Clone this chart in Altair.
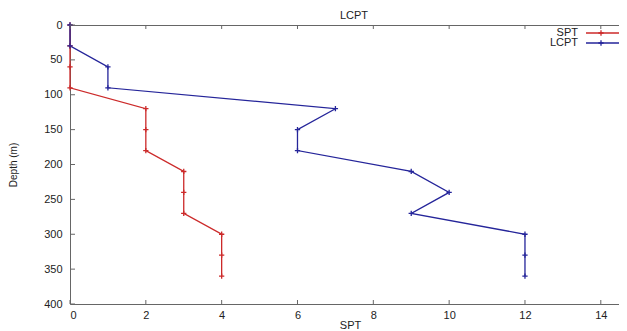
import altair as alt
import pandas as pd

depths = [0, 30, 60, 90, 120, 150, 180, 210, 240, 270, 300, 330, 360]
spt = [0, 0, 0, 0, 2, 2, 2, 3, 3, 3, 4, 4, 4]
lcpt = [0, 0, 1, 1, 7, 6, 6, 9, 10, 9, 12, 12, 12]
series_names = ["SPT", "LCPT"]
series_colors = ["#cc2a2a", "#25259a"]
x_ticks = [0, 2, 4, 6, 8, 10, 12, 14]
y_ticks = [0, 50, 100, 150, 200, 250, 300, 350, 400]

W, H = 549, 279
FONT = "Liberation Sans"

df = pd.concat([
    pd.DataFrame({"depth": depths, "value": spt, "series": "SPT"}),
    pd.DataFrame({"depth": depths, "value": lcpt, "series": "LCPT"}),
])

xscale = alt.Scale(domain=[0, 14.48], nice=False, zero=False)
yscale = alt.Scale(domain=[0, 400], reverse=True, nice=False)
cscale = alt.Scale(domain=series_names, range=series_colors)

plus = "M-1,0L1,0M0,-1L0,1"

base = alt.Chart(df)
lines = base.mark_line(strokeWidth=1.3).encode(
    x=alt.X("value:Q", scale=xscale,
            axis=alt.Axis(orient="bottom", values=x_ticks, title="SPT", tickSize=0,
                          labelPadding=5, grid=False, domainColor="#666",
                          labelOverlap=False,
                          titleX=280, titleY=21, titleBaseline="middle",
                          titleFontWeight="normal")),
    y=alt.Y("depth:Q", scale=yscale,
            axis=alt.Axis(orient="left", values=y_ticks, title="Depth (m)", tickSize=0,
                          labelPadding=8, grid=False, domainColor="#666",
                          labelOverlap=False,
                          titleX=-57, titleY=H / 2, titleAngle=-90,
                          titleAlign="center", titleBaseline="middle",
                          titleFontWeight="normal", titleFontSize=10)),
    color=alt.Color("series:N", scale=cscale, legend=None),
    order=alt.Order("depth:Q"),
    detail="series:N",
)
points = base.mark_point(shape=plus, filled=False, size=28, strokeWidth=1.3, opacity=1).encode(
    x=alt.X("value:Q", scale=xscale, axis=None),
    y=alt.Y("depth:Q", scale=yscale, axis=None),
    color=alt.Color("series:N", scale=cscale, legend=None),
)

top_axis = alt.Chart(pd.DataFrame({"v": x_ticks})).mark_rule(opacity=0).encode(
    x=alt.X("v:Q", scale=xscale,
            axis=alt.Axis(orient="top", values=x_ticks, labels=False, ticks=False,
                          title=None, domainColor="#666", grid=False)),
)

tick_df = pd.DataFrame({"v": x_ticks})
bottom_ticks = alt.Chart(tick_df).mark_rule(color="#666", strokeWidth=1).encode(
    x=alt.X("v:Q", scale=xscale, axis=None), y=alt.value(H - 4), y2=alt.value(H))
top_ticks = alt.Chart(tick_df).mark_rule(color="#666", strokeWidth=1).encode(
    x=alt.X("v:Q", scale=xscale, axis=None), y=alt.value(0), y2=alt.value(4))
left_ticks = alt.Chart(pd.DataFrame({"d": y_ticks})).mark_rule(color="#666", strokeWidth=1).encode(
    y=alt.Y("d:Q", scale=yscale, axis=None), x=alt.value(0), x2=alt.value(5))

title = alt.Chart(pd.DataFrame({"t": ["LCPT"]})).mark_text(
    font=FONT, fontSize=11, color="#222", baseline="middle").encode(
    text="t:N", x=alt.value(284), y=alt.value(-9))

legend_layers = []
for i, (name, col) in enumerate(zip(series_names, series_colors)):
    ly = 8 + 10 * i
    ldf = pd.DataFrame({"name": [name]})
    legend_layers.append(alt.Chart(ldf).mark_text(
        font=FONT, fontSize=11, color="#222", align="right", baseline="middle").encode(
        text="name:N", x=alt.value(508), y=alt.value(ly)))
    legend_layers.append(alt.Chart(ldf).mark_rule(color=col, strokeWidth=1.3).encode(
        x=alt.value(516), x2=alt.value(549), y=alt.value(ly)))
    legend_layers.append(alt.Chart(ldf).mark_point(
        shape=plus, filled=False, size=28, strokeWidth=1.3, color=col, opacity=1).encode(
        x=alt.value(531), y=alt.value(ly)))

chart = alt.layer(
    lines, points, top_axis, bottom_ticks, top_ticks, left_ticks, title, *legend_layers
).resolve_axis(x="independent", y="independent").properties(
    width=W, height=H,
    autosize=alt.AutoSizeParams(type="none"),
    padding={"left": 62, "top": 17, "right": 0, "bottom": 27},
).configure_view(stroke=None).configure_axis(
    labelFont=FONT, titleFont=FONT, labelFontSize=11, titleFontSize=11,
    labelColor="#222", titleColor="#222", domainWidth=1,
)

chart.save("out.html", embed_options={"renderer": "svg", "actions": False})
